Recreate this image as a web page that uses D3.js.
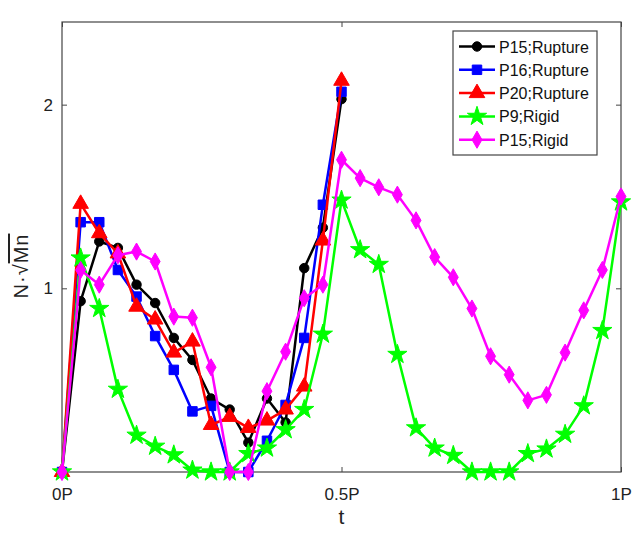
<!DOCTYPE html>
<html>
<head>
<meta charset="utf-8">
<script src="https://cdn.jsdelivr.net/npm/d3@7/dist/d3.min.js"></script>
<style>
body { margin: 0; background: #fff; }
text { font-family: "Liberation Sans", Arial, sans-serif; }
</style>
</head>
<body>
<svg id="chart" width="632" height="534"></svg>
<script>
// sample index k -> t = k/30 period
var STEPS = 30;

var p15Rupture = [0, 0.93, 1.255, 1.22, 1.02, 0.92, 0.73, 0.61, 0.40, 0.34, 0.16, 0.40, 0.27, 1.11, 1.33, 2.03];
var p16Rupture = [0, 1.36, 1.36, 1.10, 0.955, 0.74, 0.556, 0.33, 0.36, 0, 0, 0.17, 0.365, 0.73, 1.455, 2.07];
var p20Rupture = [0, 1.46, 1.30, 1.19, 0.90, 0.83, 0.65, 0.71, 0.256, 0.30, 0.24, 0.28, 0.34, 0.465, 1.26, 2.13];
var p9Rigid = [0, 1.165, 0.89, 0.45, 0.20, 0.14, 0.093, 0.01, 0, 0, 0.10, 0.13, 0.23, 0.34, 0.75, 1.48,
	1.21, 1.13, 0.64, 0.24, 0.13, 0.09, 0, 0, 0, 0.10, 0.125, 0.205, 0.36, 0.77, 1.47];
var p15Rigid = [0, 1.10, 1.02, 1.18, 1.20, 1.146, 0.846, 0.84, 0.57, 0, 0, 0.44, 0.655, 0.946, 1.02, 1.70,
	1.60, 1.55, 1.51, 1.37, 1.17, 1.06, 0.89, 0.63, 0.53, 0.39, 0.42, 0.65, 0.88, 1.10, 1.50];

var seriesNames = ["P15;Rupture", "P16;Rupture", "P20;Rupture", "P9;Rigid", "P15;Rigid"];
var xTicks = [0, 0.5, 1];
var xTickLabels = ["0P", "0.5P", "1P"];
var yTicks = [1, 2];

var series = [
	{ name: seriesNames[0], values: p15Rupture, color: "#000000", symbol: d3.symbolCircle, size: 70 },
	{ name: seriesNames[1], values: p16Rupture, color: "#0000ff", symbol: d3.symbolSquare, size: 90 },
	{ name: seriesNames[2], values: p20Rupture, color: "#ff0000", symbol: d3.symbolTriangle, size: 105 },
	{ name: seriesNames[3], values: p9Rigid, color: "#00ff00", symbol: d3.symbolStar, size: 115 },
	{ name: seriesNames[4], values: p15Rigid, color: "#ff00ff", symbol: d3.symbolDiamond, size: 85 }
];

var svg = d3.select("#chart");

var x = d3.scaleLinear().domain([0, 1]).range([62, 621]);
var y = d3.scaleLinear().domain([0, 2.45]).range([472, 22]);

// plot box
svg.append("rect")
	.attr("x", x(0)).attr("y", y(2.45))
	.attr("width", x(1) - x(0)).attr("height", y(0) - y(2.45))
	.attr("fill", "#fff").attr("stroke", "#444").attr("stroke-width", 1.2);

// axes (inward ticks, MATLAB style)
var xAxis = d3.axisBottom(x).tickValues(xTicks).tickSize(-5).tickPadding(16)
	.tickFormat(function(d, i) { return xTickLabels[i]; });
var yAxis = d3.axisLeft(y).tickValues(yTicks).tickSize(-5).tickPadding(9)
	.tickFormat(d3.format("d"));

function styleAxis(g) {
	g.select(".domain").remove();
	g.selectAll(".tick line").attr("stroke", "#444");
	g.selectAll(".tick text").attr("font-size", 17).attr("fill", "#222")
		.style("font-family", "'Liberation Sans', Arial, sans-serif");
}

svg.append("g").attr("transform", "translate(0," + y(0) + ")").call(xAxis).call(styleAxis);
svg.append("g").attr("transform", "translate(" + x(0) + ",0)").call(yAxis).call(styleAxis);
// mirrored ticks on top / right
svg.append("g").attr("transform", "translate(0," + y(2.45) + ")")
	.call(d3.axisTop(x).tickValues(xTicks).tickSize(-5).tickFormat(""))
	.call(styleAxis);
svg.append("g").attr("transform", "translate(" + x(1) + ",0)")
	.call(d3.axisRight(y).tickValues(yTicks).tickSize(-5).tickFormat(""))
	.call(styleAxis);

// axis titles
svg.append("text")
	.attr("x", x(0.5)).attr("y", 524)
	.attr("text-anchor", "middle").attr("font-size", 21).attr("fill", "#222")
	.text("t");

var yLabel = svg.append("text")
	.attr("transform", "translate(28,266) rotate(-90)")
	.attr("text-anchor", "middle").attr("font-size", 20).attr("fill", "#222")
	.attr("letter-spacing", 1);
yLabel.append("tspan").text("N\u00b7\u221a");
yLabel.append("tspan").style("text-decoration", "overline").text("Mn");

// lines and markers
var line = d3.line()
	.x(function(d, i) { return x(i / STEPS); })
	.y(function(d) { return y(d); });

series.forEach(function(s) {

	var g = svg.append("g");

	g.append("path")
		.datum(s.values)
		.attr("d", line)
		.attr("fill", "none")
		.attr("stroke", s.color)
		.attr("stroke-width", 2.5)
		.attr("stroke-linejoin", "round");

	g.selectAll("path.marker").data(s.values).enter().append("path")
		.attr("class", "marker")
		.attr("d", d3.symbol().type(s.symbol).size(s.size))
		.attr("transform", function(d, i) {
			return "translate(" + x(i / STEPS) + "," + y(d) + ")";
		})
		.attr("fill", s.color)
		.attr("stroke", s.color)
		.attr("stroke-width", 1);

});// END: series loop

// legend
var legend = svg.append("g");
legend.append("rect")
	.attr("x", 453).attr("y", 31).attr("width", 144).attr("height", 124)
	.attr("fill", "#fff").attr("stroke", "#444").attr("stroke-width", 1.2);

series.forEach(function(s, i) {

	var ly = 46.5 + i * 23.3;
	legend.append("line")
		.attr("x1", 459).attr("x2", 495).attr("y1", ly).attr("y2", ly)
		.attr("stroke", s.color).attr("stroke-width", 2.5);
	legend.append("path")
		.attr("d", d3.symbol().type(s.symbol).size(s.size))
		.attr("transform", "translate(477," + ly + ")")
		.attr("fill", s.color).attr("stroke", s.color);
	legend.append("text")
		.attr("x", 499).attr("y", ly + 6)
		.attr("font-size", 16).attr("fill", "#111")
		.text(s.name);

});// END: legend loop
</script>
</body>
</html>
